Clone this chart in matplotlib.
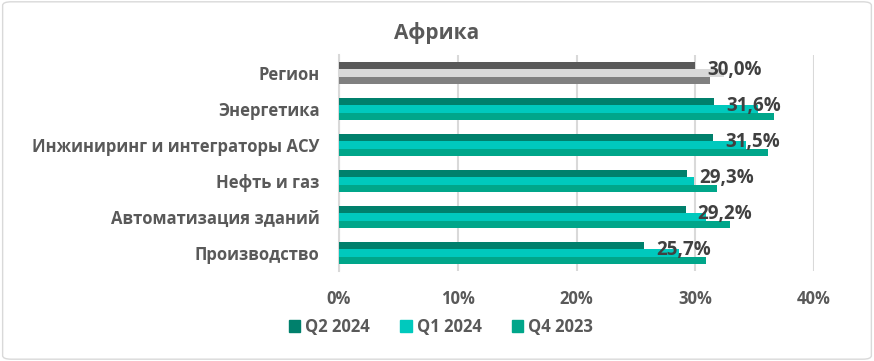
import matplotlib
matplotlib.use("Agg")
import matplotlib.pyplot as plt
import numpy as np
from matplotlib.patches import FancyBboxPatch

plt.rcParams["font.family"] = ["Open Sans", "DejaVu Sans"]

categories = ["Регион", "Энергетика", "Инжиниринг и интеграторы АСУ",
              "Нефть и газ", "Автоматизация зданий", "Производство"]
q2_2024 = [30.0, 31.6, 31.5, 29.3, 29.2, 25.7]
q1_2024 = [32.4, 35.3, 34.3, 29.9, 30.9, 28.6]
q4_2023 = [31.2, 36.6, 36.1, 31.8, 32.9, 30.9]
series_names = ["Q2 2024", "Q1 2024", "Q4 2023"]
xticks = [0, 10, 20, 30, 40]

colors = ["#00806c", "#00c9bd", "#00a68a"]
region_colors = ["#595959", "#d9d9d9", "#808080"]
text_color = "#595959"

fig = plt.figure(figsize=(8.74, 3.61), dpi=100)
ax = fig.add_axes([339 / 874, 1 - 271 / 361, 475 / 874, 216 / 361])

# rounded light border around the figure
fig.patches.append(FancyBboxPatch((0.003, 0.005), 0.994, 0.99, boxstyle="round,pad=0,rounding_size=0.01",
                                  transform=fig.transFigure, fill=False, ec="#d9d9d9", lw=1))

y = np.arange(len(categories))
h = 0.2
data = [q2_2024, q1_2024, q4_2023]
for i, vals in enumerate(data):
    offs = (i - 1) * h
    cols = [region_colors[i] if c == "Регион" else colors[i] for c in categories]
    ax.barh(y + offs, vals, height=h, color=cols, zorder=3)

for yi, v in zip(y, q2_2024):
    ax.text(v + 1.0, yi - 0.07, f"{v:.1f}%".replace(".", ","), ha="left", va="center",
            fontsize=13.5, fontweight="bold", color="#404040", zorder=4)

ax.set_ylim(len(categories) - 0.5, -0.5)
ax.set_xlim(0, 40)
ax.set_xticks(xticks)
ax.set_xticklabels([f"{t}%" for t in xticks], fontsize=12, fontweight="bold", color=text_color)
ax.set_yticks(y)
ax.set_yticklabels(categories, fontsize=12, fontweight="bold", color=text_color)
ax.tick_params(axis="both", length=0)
ax.tick_params(axis="x", pad=14)
ax.tick_params(axis="y", pad=14)
ax.grid(axis="x", color="#d9d9d9", lw=1.5, zorder=0)
for s in ["top", "right", "bottom"]:
    ax.spines[s].set_visible(False)
ax.spines["left"].set_color("#d9d9d9")
ax.spines["left"].set_linewidth(1.5)

fig.text(437 / 874, 1 - 33 / 361, "Африка", ha="center", va="center",
         fontsize=15, fontweight="bold", color=text_color)

handles = [plt.Rectangle((0, 0), 1, 1, color=c) for c in colors]
fig.legend(handles, series_names, loc="center", bbox_to_anchor=(441 / 874, 1 - 327 / 361),
           ncol=3, frameon=False, handlelength=0.7, handleheight=0.7, handletextpad=0.3,
           columnspacing=1.8, prop={"size": 12, "weight": "bold"}, labelcolor=text_color)

fig.savefig("out.png", dpi=100)
